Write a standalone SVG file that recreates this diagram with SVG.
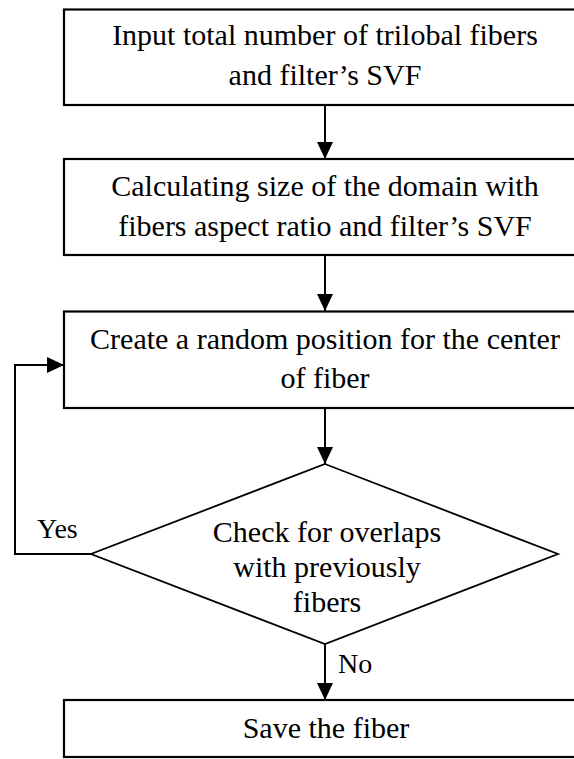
<svg xmlns="http://www.w3.org/2000/svg" width="574" height="759" viewBox="0 0 574 759">
<defs>
<style>
.box{fill:#fff;stroke:#000;stroke-width:2.2}
.dia{fill:#fff;stroke:#000;stroke-width:1.8}
.t{font-family:"Liberation Serif","Times New Roman",serif;font-size:30px;fill:#000;text-anchor:middle}
.l{font-family:"Liberation Serif","Times New Roman",serif;font-size:28px;fill:#000}
.c{fill:none;stroke:#000;stroke-width:2}
</style>
<marker id="ah" viewBox="0 0 10 10" refX="10" refY="5" markerWidth="8.5" markerHeight="8.5" markerUnits="userSpaceOnUse" orient="auto">
<path d="M0,0 L10,5 L0,10 Z" fill="#000"/>
</marker>
<marker id="a" markerUnits="userSpaceOnUse" markerWidth="18" markerHeight="18" viewBox="0 0 18 18" refX="17" refY="9" orient="auto">
<path d="M0,1 L17,9 L0,17 Z" fill="#000"/>
</marker>
</defs>
<rect width="574" height="759" fill="#fff"/>
<g id="connectors">
<line class="c" x1="325" y1="105" x2="325" y2="159" marker-end="url(#a)"/>
<line class="c" x1="325" y1="255" x2="325" y2="311" marker-end="url(#a)"/>
<line class="c" x1="325" y1="408" x2="325" y2="464" marker-end="url(#a)"/>
<line class="c" x1="325" y1="644" x2="325" y2="700" marker-end="url(#a)"/>
<polyline class="c" points="91,554 15,554 15,365 64,365" marker-end="url(#a)"/>
<text class="l" x="37" y="538">Yes</text>
<text class="l" x="338" y="673">No</text>
</g>
<g id="n1">
<rect class="box" x="64" y="9.5" width="530" height="95.5"/>
<text class="t" x="325" y="45">Input total number of trilobal fibers</text>
<text class="t" x="325" y="85">and filter’s SVF</text>
</g>
<g id="n2">
<rect class="box" x="64" y="159" width="530" height="96"/>
<text class="t" x="325" y="196">Calculating size of the domain with</text>
<text class="t" x="325" y="236">fibers aspect ratio and filter’s SVF</text>
</g>
<g id="n3">
<rect class="box" x="64" y="311.5" width="530" height="96.5"/>
<text class="t" x="325" y="349">Create a random position for the center</text>
<text class="t" x="325" y="388">of fiber</text>
</g>
<g id="n4">
<polygon class="dia" points="325,464 558,554 325,644 91,554"/>
<text class="t" x="327" y="542">Check for overlaps</text>
<text class="t" x="327" y="577">with previously</text>
<text class="t" x="327" y="612">fibers</text>
</g>
<g id="n5">
<rect class="box" x="64" y="700" width="530" height="57"/>
<text class="t" x="326" y="738">Save the fiber</text>
</g>
</svg>
